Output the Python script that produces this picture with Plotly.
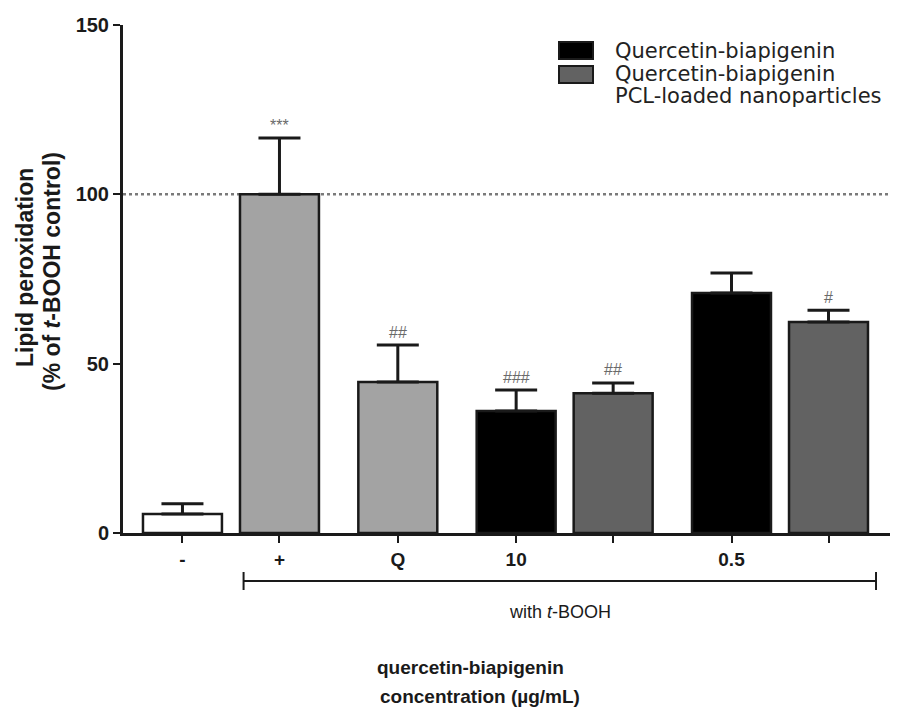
import plotly.graph_objects as go

# ---- data ----
labels = ["-", "+", "Q", "10", "", "0.5", ""]
means = [5.6, 100.0, 44.6, 36.0, 41.3, 70.9, 62.3]
sems = [3.0, 16.6, 10.9, 6.2, 3.0, 5.9, 3.5]
marks = ["", "***", "##", "###", "##", "", "#"]
groups = [0, 0, 1, 2, 2, 3, 3]
kinds = ["neg", "pos", "q", "free", "nano", "free", "nano"]
series_names = {
    "neg": "Without t-BOOH",
    "pos": "t-BOOH control",
    "q": "Quercetin",
    "free": "Quercetin-biapigenin",
    "nano": "Quercetin-biapigenin PCL-loaded nanoparticles",
}
legend_kinds = ["free", "nano"]
legend_lines = {
    "free": ["Quercetin-biapigenin"],
    "nano": ["Quercetin-biapigenin", "PCL-loaded nanoparticles"],
}
y_ticks = [0, 50, 100, 150]
ref_line = 100

# ---- style ----
colors = {"neg": "#ffffff", "pos": "#a3a3a3", "q": "#a3a3a3",
          "free": "#000000", "nano": "#626262"}
FONT = "Liberation Sans"
INK = "#1a1a1a"
W, H = 906, 714
L, R, T, B = 123, 16, 25, 181
pw, ph = W - L - R, H - T - B

# bar positions: unit step within a group, wider step between groups
pos = [0.0]
for i in range(1, len(labels)):
    pos.append(pos[-1] + (1.0 if groups[i] == groups[i - 1] else 1.22))
xr = [-0.613, pos[-1] + 0.634]
bw = 0.814


def px_x(p):
    return (p - L) / pw


def px_y(p):
    return (H - B - p) / ph


def label(x, y, text, size, bold=False, angle=0, family=FONT, color=INK,
          xanchor="center"):
    fig.add_annotation(xref="paper", yref="paper", x=px_x(x), y=px_y(y),
                       text=f"<b>{text}</b>" if bold else text,
                       textangle=angle, showarrow=False,
                       xanchor=xanchor, yanchor="middle",
                       font=dict(family=family, size=size, color=color))


fig = go.Figure()
for k in ["neg", "pos", "q", "free", "nano"]:
    idx = [i for i, kk in enumerate(kinds) if kk == k]
    fig.add_trace(go.Bar(
        x=[pos[i] for i in idx],
        y=[means[i] for i in idx],
        width=bw,
        name=series_names[k],
        marker=dict(color=colors[k], line=dict(color=INK, width=2.5)),
        error_y=dict(type="data", symmetric=False,
                     array=[sems[i] for i in idx],
                     arrayminus=[0] * len(idx),
                     color=INK, thickness=3, width=21),
        showlegend=False,
    ))

# significance marks
for i, m in enumerate(marks):
    if m:
        fig.add_annotation(x=pos[i], y=means[i] + sems[i], text=m,
                           showarrow=False, yshift=13, yanchor="middle",
                           font=dict(family=FONT, size=16, color="#6a6a6a"))

# reference dotted line
fig.add_shape(type="line", xref="paper", yref="y", x0=0, x1=1,
              y0=ref_line, y1=ref_line, layer="below",
              line=dict(color="#7a7a7a", width=2.5, dash="dot"))

# bracket "with t-BOOH"
bx0 = pos[1] - 0.37
bx1 = pos[-1] + 0.49
by = px_y(581)
fig.add_shape(type="line", xref="x", yref="paper", x0=bx0, x1=bx1,
              y0=by, y1=by, line=dict(color=INK, width=2))
for bx in (bx0, bx1):
    fig.add_shape(type="line", xref="x", yref="paper", x0=bx, x1=bx,
                  y0=px_y(572), y1=px_y(590), line=dict(color=INK, width=2))
label(560, 612, "with <i>t</i>-BOOH", 18)

# x title
label(470, 667, "quercetin-biapigenin", 19, bold=True)
label(480, 697, "concentration (µg/mL)", 19, bold=True)

# y title
label(25, 268, "Lipid peroxidation", 23, bold=True, angle=-90)
label(52, 272, "(% of <i>t</i>-BOOH control)", 23, bold=True, angle=-90)

# legend (drawn)
box_y = [(42, 59), (66, 83)]
text_y = {"free": [51], "nano": [74, 96]}
for j, k in enumerate(legend_kinds):
    y0, y1 = box_y[j]
    fig.add_shape(type="rect", xref="paper", yref="paper",
                  x0=px_x(559), x1=px_x(593), y0=px_y(y1), y1=px_y(y0),
                  fillcolor=colors[k], line=dict(color=INK, width=2))
    for line_txt, ty in zip(legend_lines[k], text_y[k]):
        label(613, ty, line_txt, 21, family="DejaVu Sans", color="#222222",
              xanchor="left")

fig.update_layout(
    width=W, height=H,
    margin=dict(l=L, r=R, t=T, b=B),
    paper_bgcolor="white", plot_bgcolor="white",
    barmode="overlay",
    showlegend=False,
    xaxis=dict(range=xr, tickvals=pos, ticktext=labels, showgrid=False,
               zeroline=False, showline=True, linecolor=INK, linewidth=3,
               ticks="outside", ticklen=7, tickwidth=2, tickcolor=INK,
               tickfont=dict(family=FONT, size=19, color=INK, weight="bold")),
    yaxis=dict(range=[0, 150], tickvals=y_ticks, showgrid=False,
               zeroline=False, showline=True, linecolor=INK, linewidth=3,
               ticks="outside", ticklen=7, tickwidth=2, tickcolor=INK,
               tickfont=dict(family=FONT, size=20, color=INK, weight="bold")),
)

fig.write_html("out.html")
